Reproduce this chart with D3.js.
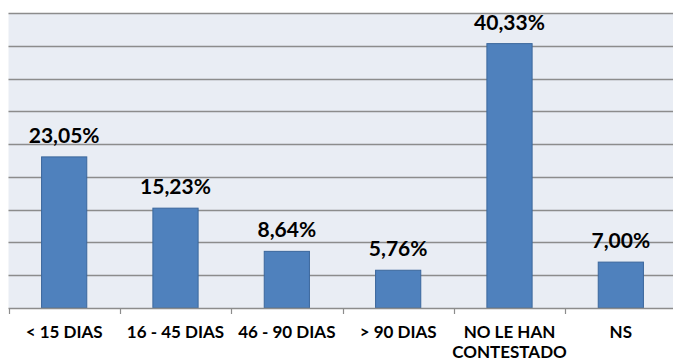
<!DOCTYPE html>
<html><head><meta charset="utf-8">
<script src="https://cdn.jsdelivr.net/npm/d3@7"></script>
<style>html,body{margin:0;padding:0;background:#fff;}svg{display:block;}</style>
</head><body>
<svg id="c" width="673" height="363"></svg>
<script>
const categories = [["< 15 DIAS"], ["16 - 45 DIAS"], ["46 - 90 DIAS"], ["> 90 DIAS"], ["NO LE HAN", "CONTESTADO"], ["NS"]];
const values = [23.05, 15.23, 8.64, 5.76, 40.33, 7.00];
const valueLabels = ["23,05%", "15,23%", "8,64%", "5,76%", "40,33%", "7,00%"];
const yTicks = [0, 5, 10, 15, 20, 25, 30, 35, 40, 45];

(function () {
const svg = d3.select("#c");
const pLeft = 8.5, pRight = 676.5, pTop = 13, pBottom = 308;
const keys = categories.map((c, i) => i);
const x = d3.scaleBand().domain(keys).range([pLeft, pRight]).paddingInner(0.585).paddingOuter(0.2925);
const xb = d3.scaleBand().domain(keys).range([pLeft, pRight]);
const y = d3.scaleLinear().domain([0, 45]).range([pBottom, pTop]);

svg.append("rect").attr("x", pLeft).attr("y", pTop).attr("width", pRight - pLeft).attr("height", pBottom - pTop).attr("fill", "#E9EDF4");

svg.append("g").selectAll("line").data(yTicks.slice(1)).join("line")
  .attr("x1", pLeft).attr("x2", pRight)
  .attr("y1", d => Math.round(y(d)) + 0.5).attr("y2", d => Math.round(y(d)) + 0.5)
  .attr("stroke", "#8C8C8C").attr("stroke-width", 1.5);

svg.append("g").selectAll("rect").data(values).join("rect")
  .attr("x", (d, i) => x(i) + 0.5).attr("width", x.bandwidth() - 1)
  .attr("y", d => y(d)).attr("height", d => pBottom - y(d))
  .attr("fill", "#4F81BD").attr("stroke", "#3B679C").attr("stroke-width", 1);

svg.append("line").attr("x1", pLeft).attr("x2", pRight).attr("y1", pBottom + 0.5).attr("y2", pBottom + 0.5)
  .attr("stroke", "#8C8C8C").attr("stroke-width", 1.5);
svg.append("g").selectAll("line").data(keys.concat([keys.length])).join("line")
  .attr("x1", d => Math.round(pLeft + d * xb.step()) + 0.5).attr("x2", d => Math.round(pLeft + d * xb.step()) + 0.5)
  .attr("y1", pBottom).attr("y2", pBottom + 6)
  .attr("stroke", "#8C8C8C").attr("stroke-width", 1.2);

svg.append("g").selectAll("text").data(values).join("text")
  .attr("x", (d, i) => x(i) + x.bandwidth() / 2)
  .attr("y", d => y(d) - 14)
  .attr("text-anchor", "middle")
  .attr("font-family", "Lato, 'Open Sans', sans-serif").attr("font-weight", "bold").attr("font-size", 21)
  .attr("fill", "#000")
  .text((d, i) => valueLabels[i]);

const cat = svg.append("g").selectAll("text").data(categories).join("text")
  .attr("x", (d, i) => xb(i) + xb.bandwidth() / 2)
  .attr("y", 338)
  .attr("text-anchor", "middle")
  .attr("font-family", "Lato, 'Open Sans', sans-serif").attr("font-weight", "bold").attr("font-size", 17)
  .attr("fill", "#000");
cat.selectAll("tspan").data(d => d).join("tspan")
  .attr("x", function () { return d3.select(this.parentNode).attr("x"); })
  .attr("dy", (d, j) => j === 0 ? 0 : 20)
  .text(d => d);
})();
</script>
</body></html>
